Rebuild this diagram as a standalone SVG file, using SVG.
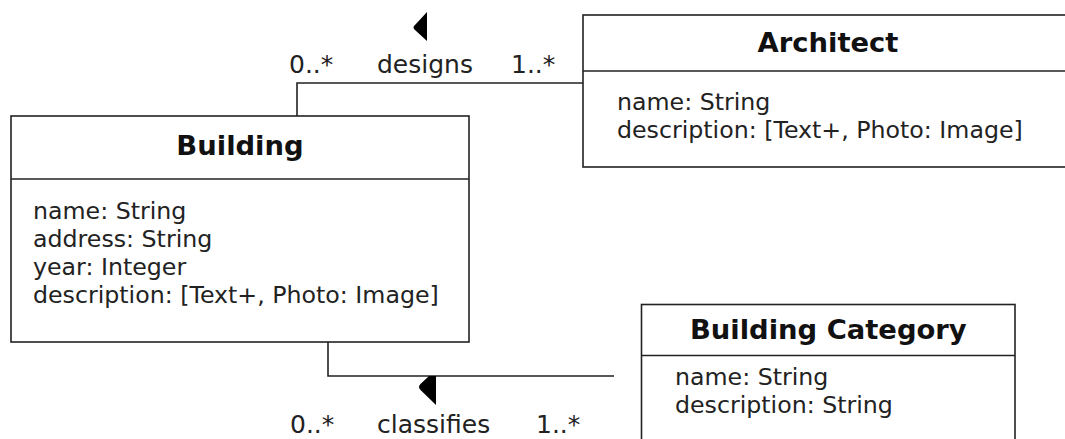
<svg xmlns="http://www.w3.org/2000/svg" width="1065" height="439" viewBox="0 0 1065 439">
<style>
.box{fill:#fff;stroke:#222;stroke-width:1.6}
.line{fill:none;stroke:#222;stroke-width:1.6}
.title{font-family:"DejaVu Sans",Verdana,sans-serif;font-weight:bold;font-size:27.4px;fill:#111;text-anchor:middle}
.attr{font-family:"DejaVu Sans",Verdana,sans-serif;font-size:23.7px;fill:#222}
.lbl{font-family:"DejaVu Sans",Verdana,sans-serif;font-size:25px;fill:#222}
.tri{fill:#000}
</style>
<rect width="1065" height="439" fill="#fff"/>
<g id="connectors">
<path class="line" d="M297,116 L297,83 L583,83"/>
<path class="line" d="M328,342 L328,376 L614,376"/>
<path class="tri" d="M427,12 L427,41 L415,30 Q412,27.5 415,25 Z"/>
<path class="tri" d="M436,376 L436,405 L420.5,390 Q417.5,387 420.5,384 L429,376 Z"/>
<text class="lbl" x="289" y="73">0..*</text>
<text class="lbl" x="377" y="73">designs</text>
<text class="lbl" x="511" y="73">1..*</text>
<text class="lbl" x="290" y="433">0..*</text>
<text class="lbl" x="377" y="433">classifies</text>
<text class="lbl" x="536" y="433">1..*</text>
</g>
<g id="building">
<rect class="box" x="11" y="116" width="458" height="226"/>
<line class="line" x1="11" y1="179" x2="469" y2="179"/>
<text class="title" x="240" y="154.5">Building</text>
<text class="attr" x="33" y="218.5">name: String</text>
<text class="attr" x="33" y="246.7">address: String</text>
<text class="attr" x="33" y="274.9">year: Integer</text>
<text class="attr" x="33" y="303">description: [Text+, Photo: Image]</text>
</g>
<g id="architect">
<rect class="box" x="583" y="15" width="490" height="152"/>
<line class="line" x1="583" y1="71" x2="1073" y2="71"/>
<text class="title" x="828" y="52">Architect</text>
<text class="attr" x="617" y="110">name: String</text>
<text class="attr" x="617" y="138.3">description: [Text+, Photo: Image]</text>
</g>
<g id="building-category">
<rect class="box" x="641.5" y="304.5" width="373.5" height="150"/>
<line class="line" x1="641.5" y1="355.5" x2="1015" y2="355.5"/>
<text class="title" x="828.3" y="339">Building Category</text>
<text class="attr" x="675" y="385">name: String</text>
<text class="attr" x="675" y="412.7">description: String</text>
</g>
</svg>
